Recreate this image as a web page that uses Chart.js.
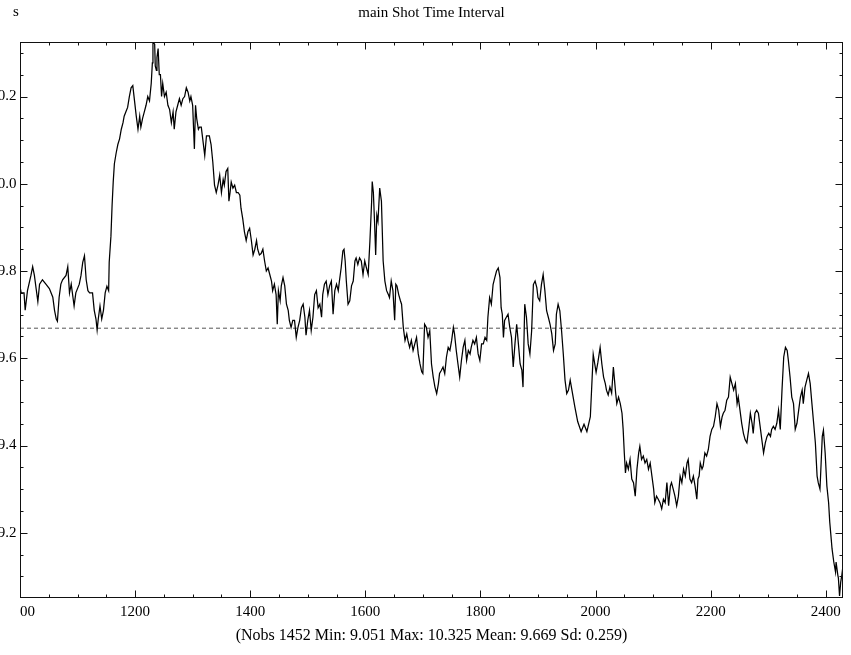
<!DOCTYPE html>
<html>
<head>
<meta charset="utf-8">
<script src="https://cdn.jsdelivr.net/npm/chart.js@4.4.0/dist/chart.umd.min.js"></script>
<style>
  html, body { margin: 0; padding: 0; background: #fff; }
  #wrap { width: 851px; height: 655px; overflow: hidden; }
</style>
</head>
<body>
<div id="wrap"><canvas id="chart" width="851" height="655"></canvas></div>
<script>
const obsX = [
  1000,1002,1005,1007,1009,1013,1019,1022,1025,1028,
  1031,1034,1039,1045,1051,1057,1060,1063,1065,1068,
  1071,1074,1080,1083,1086,1089,1092,1094,1097,1103,
  1106,1109,1112,1115,1118,1121,1126,1129,1132,1134,
  1136,1139,1142,1145,1148,1151,1154,1155,1158,1160,
  1162,1164,1167,1170,1173,1176,1179,1181,1184,1187,
  1190,1193,1196,1199,1202,1205,1208,1210,1213,1216,
  1219,1222,1225,1228,1230,1231,1234,1235,1237,1238,
  1240,1242,1244,1246,1248,1251,1254,1257,1260,1263,
  1266,1268,1271,1274,1277,1280,1283,1286,1289,1292,
  1295,1297,1300,1303,1305,1307,1310,
  1312,1315,1321,1324,1329,1332,1335,1338,1341,1344,
  1347,1350,1353,1355,1358,1361,1363,1365,1367,1370,
  1373,1376,1379,1382,1384,1387,1390,1393,1396,1399,
  1402,1405,1408,1411,1413,1416,1419,1422,1425,1428,
  1431,1434,1437,1439,1442,1445,1447,1449,1452,1454,
  1457,1460,1463,1466,1468,1471,1474,1477,1480,1483,
  1486,1489,1492,1495,1497,1500,1503,1506,1509,1512,
  1515,1518,1521,1524,1526,1529,1532,1535,1538,1541,
  1544,1547,1550,1553,1555,1558,1561,1563,1565,1567,
  1570,1573,1576,1579,1582,1584,1587,1590,1593,1596,
  1599,1602,1605,1608,1611,1612,1614,1616,1618,1620,
  1622,1625,1628,1631,1634,1637,1640,1642,1645,1648,
  1651,1653,1655,1658,1661,1663,1666,1669,1672,1674,
  1677,1680,1683,1686,1689,1692,1695,
  1698,1700,1703,1706,1709,1712,1715,1718,1721,1724,
  1727,1729,1732,1735,1738,1741,1744,1747,1750,1753,
  1755,1758,1761,1764,1767,1770,1773,1776,1779,1782,
  1784,1787,1790,1793,1796,1799,1802,1805,1808,1811,
  1813,1816,1819,1822,1825,1828,1831,1834,1836,1838,
  1840,1842,1845,1848,1851,1854,1857,1860,1863,1866,
  1869,1872,1874,1877,1880,1883,1886,1889,1892,1895,
  1898,1900,1903,1906,1909,1912,1915,1918,1921,1924,
  1927,1930,1932,1935,1938,1941,1944,1947,1950,1953,
  1956,1959,1964,1969,1975,1980,1985,1991,1996,2001,
  2004,
  2008,2011,2014,2017,2019,2022,2025,2028,2031,2033,
  2035,2037,2040,2043,2046,2048,2050,2052,2054,2057,
  2060,2063,2066,2069,2072,2075,2077,2080,2083,2086,
  2089,2092,2095,2098,2101,2103,2106,2109,2112,2115,
  2118,2121,2124,2127,2130,2132,2135,2138,2141,2144,
  2147,2150,2153,2156,2159,2161,2164,2167,2170,2173,
  2176,2178,2180,2182,2185,2187,2190,2193,2196,2199,
  2202,2205,2208,2211,2214,2217,2220,2222,2225,2228,
  2231,2234,2237,2240,2243,2246,2248,2251,2254,2257,
  2260,2263,2266,2269,2272,2274,2277,2280,2283,2286,
  2289,2292,2295,2298,2301,2304,2306,2309,2312,2315,
  2318,2321,2324,2327,2330,2333,2335,2338,2341,2344,
  2347,2350,2353,2356,2359,2361,2364,2367,2370,2373,
  2376,2379,2382,2385,2387,2390,2392,2394,2396,2399,
  2402,2405,2407,2408,2411,2414,2417,2418,2421,2422,
  2424,2426,2428,2430
];
const obsY = [
  9.765,9.75,9.75,9.75,9.71,9.755,9.79,9.81,9.79,9.76,
  9.73,9.77,9.78,9.77,9.76,9.74,9.71,9.69,9.685,9.74,
  9.77,9.78,9.79,9.81,9.75,9.77,9.74,9.72,9.75,9.77,
  9.79,9.82,9.835,9.78,9.755,9.75,9.75,9.71,9.69,9.665,
  9.69,9.72,9.69,9.71,9.75,9.765,9.755,9.82,9.88,9.95,
  10.005,10.046,10.07,10.09,10.103,10.125,10.14,10.155,10.165,10.175,
  10.2,10.22,10.225,10.19,10.155,10.125,10.155,10.13,10.15,10.165,
  10.18,10.2,10.19,10.23,10.277,10.325,10.32,10.27,10.26,10.29,
  10.31,10.25,10.25,10.2,10.23,10.2,10.21,10.18,10.17,10.14,
  10.165,10.125,10.165,10.18,10.195,10.18,10.195,10.2,10.22,10.21,
  10.19,10.2,10.18,10.08,10.18,10.15,10.125,
  10.13,10.13,10.065,10.11,10.11,10.09,10.05,9.997,9.98,9.997,
  10.02,9.98,10.01,9.997,10.028,10.035,9.96,9.98,10.004,9.99,
  9.997,9.98,9.98,9.974,9.944,9.92,9.89,9.87,9.89,9.898,
  9.87,9.837,9.85,9.87,9.85,9.837,9.84,9.85,9.823,9.8,
  9.807,9.792,9.777,9.755,9.77,9.746,9.678,9.755,9.732,9.766,
  9.785,9.766,9.724,9.71,9.687,9.671,9.687,9.687,9.648,9.671,
  9.687,9.716,9.724,9.694,9.653,9.687,9.71,9.664,9.694,9.746,
  9.755,9.716,9.724,9.694,9.746,9.77,9.777,9.746,9.766,9.777,
  9.701,9.755,9.77,9.755,9.777,9.807,9.846,9.85,9.823,9.777,
  9.724,9.732,9.766,9.777,9.823,9.83,9.815,9.83,9.823,9.792,
  9.823,9.807,9.792,9.869,9.96,10.005,9.98,9.914,9.837,9.928,
  9.914,9.99,9.96,9.823,9.777,9.755,9.746,9.739,9.777,9.755,
  9.687,9.77,9.766,9.746,9.732,9.724,9.671,9.641,9.656,9.641,
  9.625,9.641,9.618,9.633,9.648,9.61,9.587,
  9.569,9.565,9.678,9.671,9.648,9.663,9.587,9.557,9.534,9.519,
  9.542,9.565,9.572,9.58,9.565,9.603,9.625,9.618,9.641,9.671,
  9.656,9.618,9.587,9.557,9.595,9.625,9.641,9.595,9.618,9.61,
  9.625,9.641,9.633,9.648,9.61,9.595,9.633,9.633,9.648,9.641,
  9.694,9.739,9.724,9.769,9.785,9.8,9.807,9.785,9.716,9.701,
  9.648,9.687,9.694,9.701,9.671,9.648,9.58,9.633,9.678,9.633,
  9.587,9.573,9.534,9.724,9.694,9.633,9.61,9.663,9.769,9.777,
  9.762,9.739,9.732,9.769,9.792,9.755,9.709,9.694,9.678,9.656,
  9.618,9.633,9.701,9.724,9.709,9.663,9.61,9.55,9.519,9.527,
  9.55,9.527,9.489,9.455,9.432,9.449,9.432,9.466,9.609,9.568,
  9.59,
  9.625,9.587,9.557,9.542,9.527,9.516,9.534,9.52,9.58,9.55,
  9.52,9.496,9.511,9.496,9.474,9.437,9.383,9.337,9.36,9.346,
  9.368,9.323,9.315,9.284,9.346,9.383,9.398,9.368,9.376,9.36,
  9.368,9.346,9.36,9.33,9.3,9.269,9.284,9.277,9.269,9.255,
  9.277,9.269,9.315,9.262,9.307,9.315,9.3,9.284,9.262,9.284,
  9.33,9.315,9.346,9.33,9.36,9.368,9.323,9.315,9.33,9.307,
  9.277,9.323,9.33,9.36,9.346,9.353,9.383,9.376,9.391,9.421,
  9.437,9.444,9.466,9.496,9.481,9.444,9.466,9.474,9.481,9.504,
  9.511,9.557,9.542,9.527,9.542,9.496,9.511,9.481,9.451,9.428,
  9.413,9.406,9.437,9.474,9.451,9.428,9.474,9.481,9.474,9.444,
  9.413,9.383,9.406,9.421,9.428,9.421,9.437,9.444,9.437,9.451,
  9.481,9.437,9.527,9.603,9.625,9.618,9.596,9.557,9.511,9.496,
  9.437,9.451,9.481,9.511,9.527,9.496,9.534,9.55,9.565,9.542,
  9.496,9.451,9.406,9.33,9.315,9.3,9.36,9.421,9.435,9.383,
  9.307,9.269,9.224,9.209,9.163,9.133,9.11,9.133,9.103,9.096,
  9.055,9.087,9.103,9.125
];

const meanValue = 9.669;
const xRange = [1000, 2430];
const yRange = [9.051, 10.325];
const xTickValues = [1000, 1200, 1400, 1600, 1800, 2000, 2200, 2400];
const yTickValues = [9.2, 9.4, 9.6, 9.8, 10.0, 10.2];

const titleText = 'main Shot Time Interval';
const unitText = 's';
const captionText = '(Nobs 1452 Min: 9.051 Max: 10.325 Mean: 9.669 Sd: 0.259)';

const FONT = "'Liberation Serif', 'Times New Roman', serif";
Chart.defaults.font.family = FONT;
Chart.defaults.font.size = 15;
Chart.defaults.color = '#000';

// frame with inward ticks on all four sides, plus the unit label
const framePlugin = {
  id: 'frame',
  afterDraw(chart) {
    const { ctx, chartArea: a, scales } = chart;
    const l = Math.round(a.left) + 0.5;
    const r = Math.round(a.right) - 0.5;
    const t = Math.round(a.top) + 0.5;
    const b = Math.round(a.bottom) - 0.5;
    ctx.save();

    // the original picture is cut off at the left of the axis labels
    ctx.fillStyle = '#fff';
    ctx.fillRect(0, b + 1, Math.round(a.left), 30);

    ctx.strokeStyle = '#111';
    ctx.lineWidth = 1;
    ctx.strokeRect(l, t, r - l, b - t);

    ctx.beginPath();
    for (let k = Math.ceil(xRange[0] / 50); k * 50 <= xRange[1]; k++) {
      const x = Math.round(scales.x.getPixelForValue(k * 50)) + 0.5;
      const len = k % 4 === 0 ? 7 : 3;
      ctx.moveTo(x, b); ctx.lineTo(x, b - len);
      ctx.moveTo(x, t); ctx.lineTo(x, t + len);
    }
    for (let k = Math.ceil(yRange[0] * 20); k / 20 <= yRange[1]; k++) {
      const y = Math.round(scales.y.getPixelForValue(k / 20)) + 0.5;
      const len = k % 4 === 0 ? 7 : 3;
      ctx.moveTo(l, y); ctx.lineTo(l + len, y);
      ctx.moveTo(r, y); ctx.lineTo(r - len, y);
    }
    ctx.stroke();

    ctx.fillStyle = '#000';
    ctx.font = '15px ' + FONT;
    ctx.textAlign = 'left';
    ctx.textBaseline = 'alphabetic';
    ctx.fillText(unitText, 13, 16);
    ctx.restore();
  }
};

new Chart(document.getElementById('chart'), {
  type: 'line',
  data: {
    datasets: [{
      data: obsX.map((x, i) => ({ x, y: obsY[i] })),
      borderColor: '#000',
      borderWidth: 1.25,
      pointRadius: 0,
      tension: 0,
      xAxisID: 'x',
      yAxisID: 'y'
    }, {
      data: [{ x: xRange[0], y: meanValue }, { x: xRange[1], y: meanValue }],
      borderColor: '#555',
      borderWidth: 1,
      borderDash: [4, 3],
      pointRadius: 0,
      xAxisID: 'x',
      yAxisID: 'y'
    }]
  },
  options: {
    responsive: false,
    animation: false,
    layout: { padding: { left: 0, right: 8, top: 0, bottom: 0 } },
    plugins: {
      legend: { display: false },
      tooltip: { enabled: false }
    },
    scales: {
      x: {
        type: 'linear',
        position: 'bottom',
        min: xRange[0],
        max: xRange[1],
        afterBuildTicks: s => { s.ticks = xTickValues.map(value => ({ value })); },
        ticks: { padding: 5, autoSkip: false, maxRotation: 0, callback: v => String(v) },
        grid: { display: false, drawTicks: false },
        border: { display: false },
        title: { display: true, text: captionText, font: { size: 16 }, padding: { top: 0, bottom: 10 } }
      },
      xTop: {
        type: 'linear',
        position: 'top',
        min: xRange[0],
        max: xRange[1],
        ticks: { display: false },
        grid: { display: false, drawTicks: false },
        border: { display: false },
        title: { display: true, text: titleText, padding: { top: 4, bottom: 20 } }
      },
      y: {
        type: 'linear',
        min: yRange[0],
        max: yRange[1],
        afterBuildTicks: s => { s.ticks = yTickValues.map(value => ({ value })); },
        afterFit: s => { s.width = 20; },
        ticks: { padding: 3.5, callback: v => v.toFixed(1) },
        grid: { display: false, drawTicks: false },
        border: { display: false }
      }
    }
  },
  plugins: [framePlugin]
});
</script>
</body>
</html>
